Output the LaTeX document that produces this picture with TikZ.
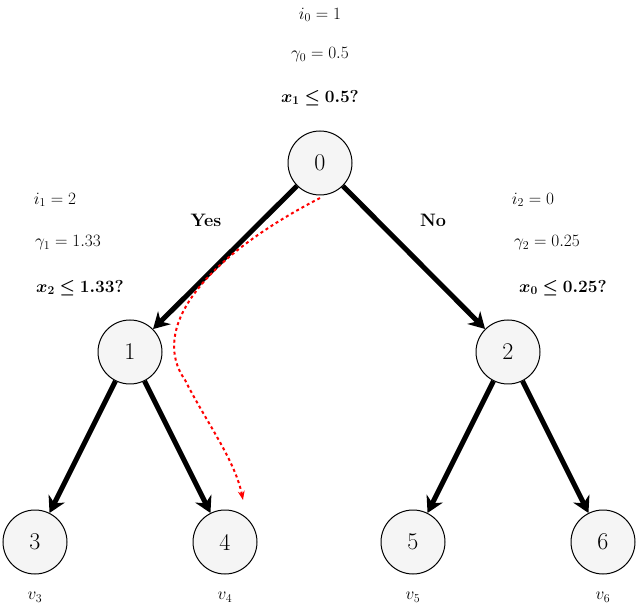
\documentclass[tikz,border=0pt]{standalone}
\usepackage{amsmath,amssymb,bm}
\usetikzlibrary{arrows.meta}
\begin{document}
\begin{tikzpicture}[x=1pt,y=-1pt,
  tn/.style={circle,draw,line width=1pt,fill=gray!8,minimum size=64pt,inner sep=0pt,font=\fontsize{24}{28}\selectfont},
  lab/.style={font=\fontsize{18}{22}\selectfont},
  edge/.style={line width=5pt,-{Stealth[length=16pt,width=18pt]}}]
\useasboundingbox (0,0) rectangle (640,609);
\node[tn] (n0) at (320,163) {0};
\node[tn] (n1) at (130,352) {1};
\node[tn] (n2) at (508,352) {2};
\node[tn] (n3) at (35,542) {3};
\node[tn] (n4) at (225,542) {4};
\node[tn] (n5) at (413,542) {5};
\node[tn] (n6) at (603,542) {6};
\draw[edge] (n0) -- (n1);
\draw[edge] (n0) -- (n2);
\draw[edge] (n1) -- (n3);
\draw[edge] (n1) -- (n4);
\draw[edge] (n2) -- (n5);
\draw[edge] (n2) -- (n6);
\coordinate (rs) at (320,198);
\coordinate (re) at (243,500);
\draw[red,dashed,line width=2pt,-{Stealth[length=9pt]}] (rs) .. controls (200,260) and (150,330) .. (185,380) .. controls (205,420) and (235,460) .. (re);
\node[lab] (a0) at (320,15) {$i_0=1$};
\node[lab] (b0) at (320,55) {$\gamma_0=0.5$};
\node[lab] (c0) at (320,98) {$\bm{x_1\leq 0.5?}$};
\node[lab] (a1) at (55,200) {$i_1=2$};
\node[lab] (b1) at (68,243) {$\gamma_1=1.33$};
\node[lab] (c1) at (80,288) {$\bm{x_2\leq 1.33?}$};
\node[lab] (a2) at (533,200) {$i_2=0$};
\node[lab] (b2) at (547,243) {$\gamma_2=0.25$};
\node[lab] (c2) at (563,288) {$\bm{x_0\leq 0.25?}$};
\node[lab] (yes) at (206,220) {\textbf{Yes}};
\node[lab] (no) at (433,220) {\textbf{No}};
\node[lab] (v3) at (35,597) {$v_3$};
\node[lab] (v4) at (225,597) {$v_4$};
\node[lab] (v5) at (413,597) {$v_5$};
\node[lab] (v6) at (603,597) {$v_6$};
\end{tikzpicture}
\end{document}
